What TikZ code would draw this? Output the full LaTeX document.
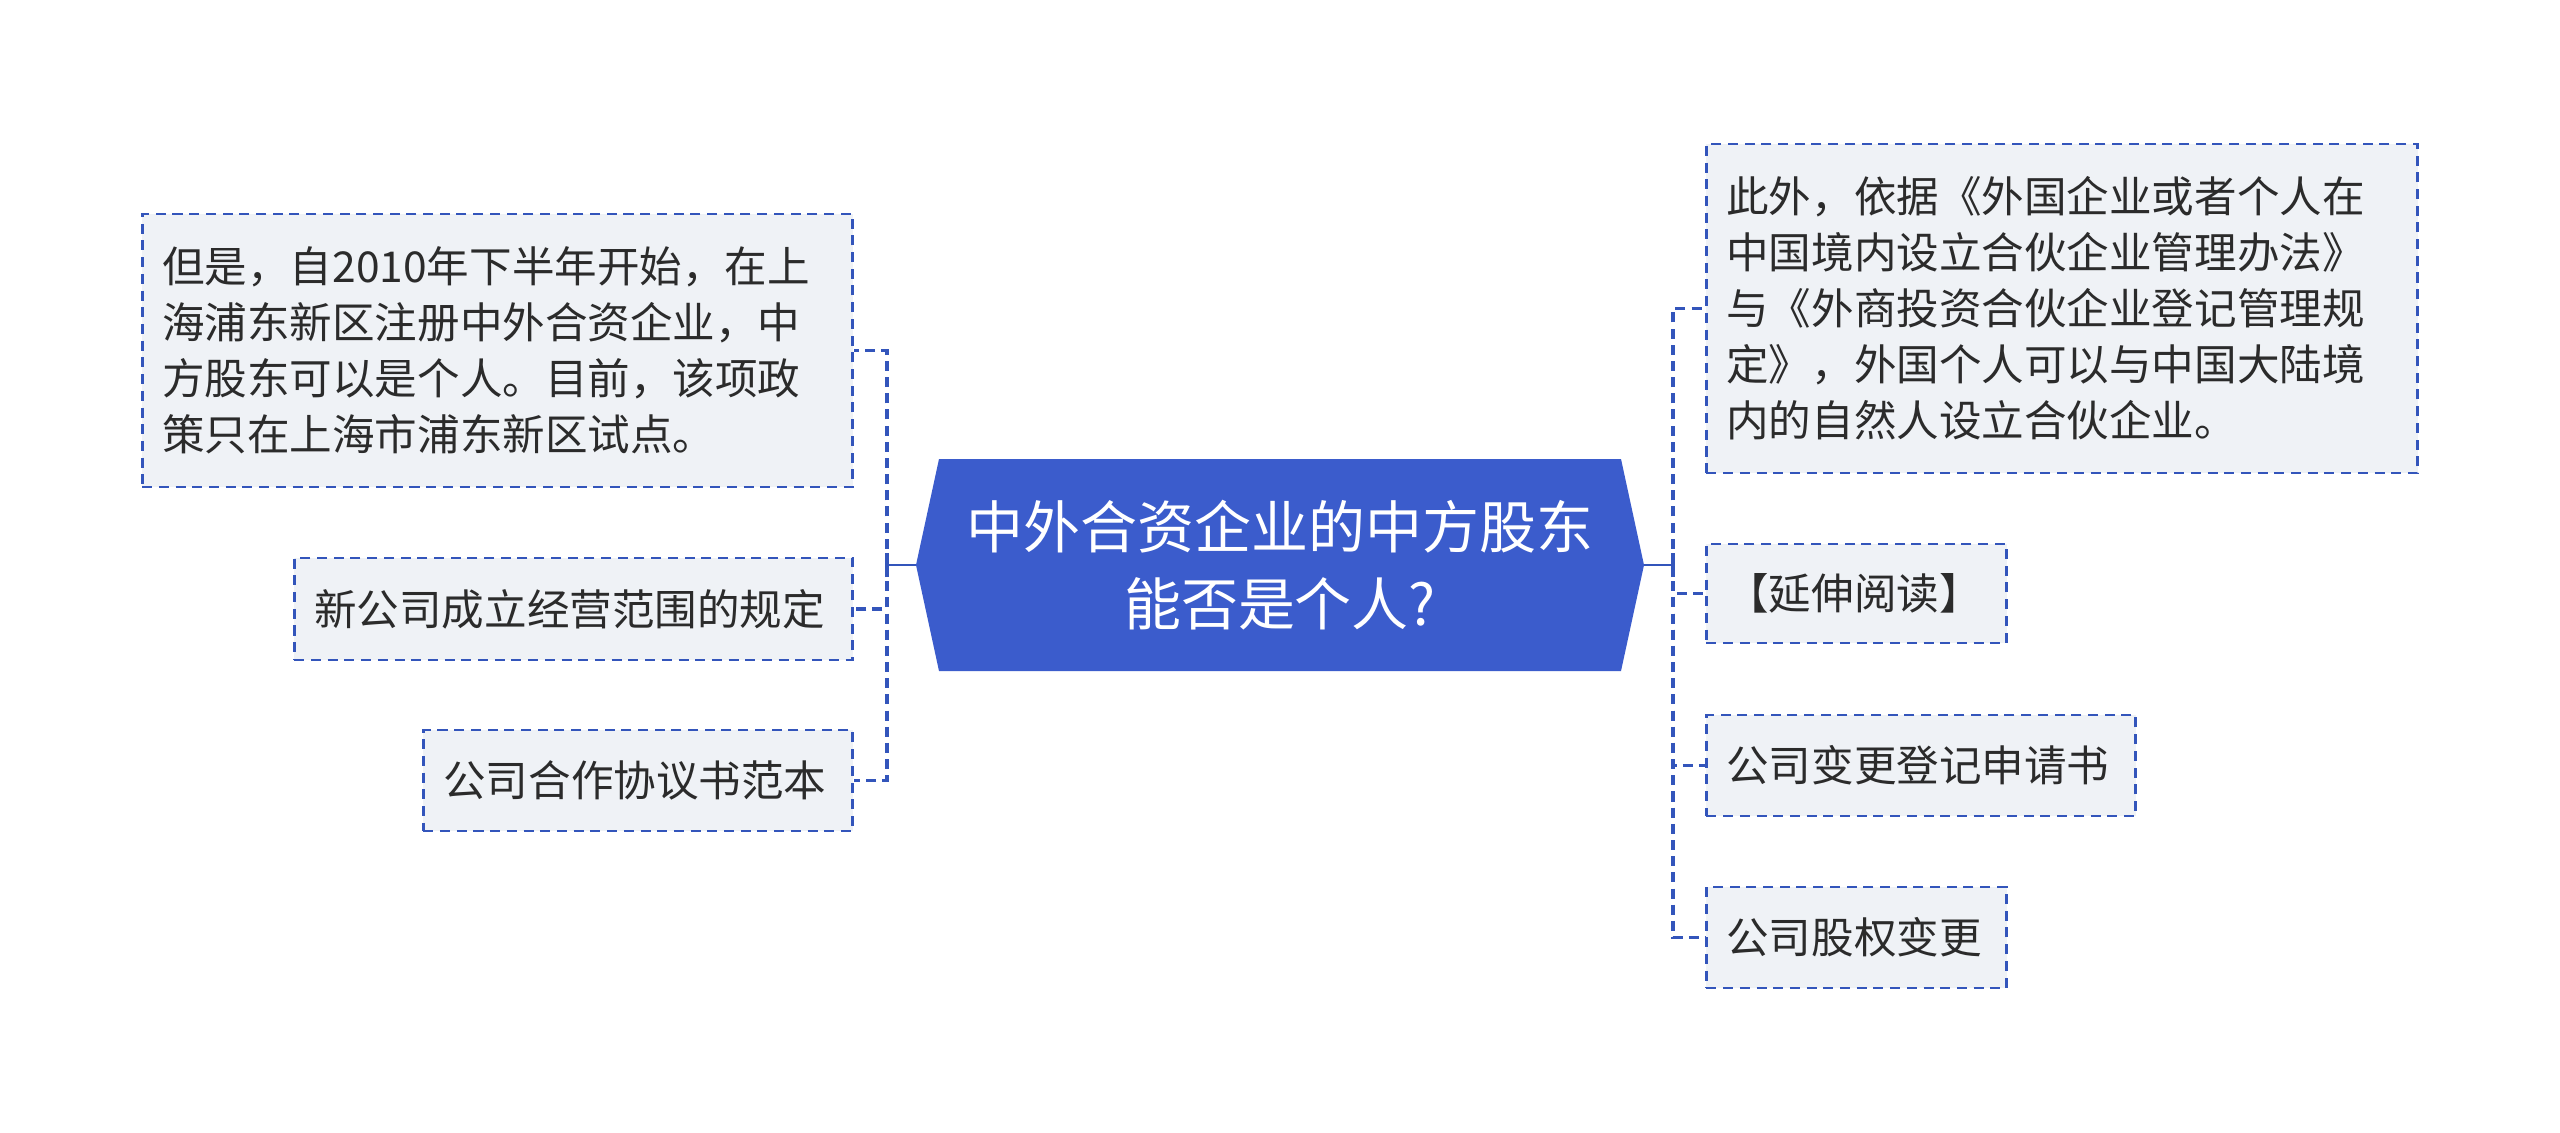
\documentclass[tikz,border=0pt]{standalone}
\usepackage{fontspec}
\setmainfont{Noto Sans CJK SC}
\definecolor{rootblue}{HTML}{3B5CCC}
\definecolor{linkblue}{HTML}{3355BB}
\definecolor{boxfill}{HTML}{EFF2F6}
\definecolor{txt}{HTML}{2B2B2B}
\begin{document}
\begin{tikzpicture}[x=0.01cm,y=-0.01cm,
  leaf/.style={draw=linkblue, line width=0.78pt, dash pattern=on 2.85pt off 1.9pt,
    fill=boxfill, text=txt, font=\fontsize{12.1}{15.9}\selectfont,
    align=left, inner xsep=0.2cm, inner ysep=0pt},
  conn/.style={draw=linkblue, line width=1.1pt, dash pattern=on 2.85pt off 1.75pt},
  trunk/.style={draw=linkblue, line width=0.6pt},
  tick/.style={draw=linkblue, line width=1.1pt},
  roottext/.style={text=white, font=\fontsize{16.2}{21.9}\selectfont, align=center}]
\useasboundingbox[fill=white] (0,0) rectangle (2560,1132);

% central topic
\fill[rootblue] (916,565) -- (939,459) -- (1621,459) -- (1644,565) -- (1621,671) -- (939,671) -- cycle;
\node[roottext] (root) at (1280,565) {中外合资企业的中方股东\\能否是个人?};
\coordinate (rl) at (916,565);
\coordinate (rr) at (1644,565);
\coordinate (jl) at (887,565);
\coordinate (jr) at (1673,565);

% left leaves
\node[leaf, anchor=east, text width=6.70cm, minimum height=2.73cm] (L1) at (854,350.5)
  {但是，自2010年下半年开始，在上\\海浦东新区注册中外合资企业，中\\方股东可以是个人。目前，该项政\\策只在上海市浦东新区试点。};
\node[leaf, anchor=east, text width=5.18cm, minimum height=1.02cm] (L2) at (854,609)
  {新公司成立经营范围的规定};
\node[leaf, anchor=east, text width=3.89cm, minimum height=1.01cm] (L3) at (854,780.5)
  {公司合作协议书范本};

% right leaves
\node[leaf, anchor=west, text width=6.71cm, minimum height=3.29cm] (R1) at (1705,308.5)
  {此外，依据《外国企业或者个人在\\中国境内设立合伙企业管理办法》\\与《外商投资合伙企业登记管理规\\定》，外国个人可以与中国大陆境\\内的自然人设立合伙企业。};
\node[leaf, anchor=west, text width=2.60cm, minimum height=0.99cm] (R2) at (1705,593.5)
  {【延伸阅读】};
\node[leaf, anchor=west, text width=3.89cm, minimum height=1.01cm] (R3) at (1705,765.5)
  {公司变更登记申请书};
\node[leaf, anchor=west, text width=2.60cm, minimum height=1.01cm] (R4) at (1705,937.5)
  {公司股权变更};

% connectors
\draw[trunk] (rl) -- (jl);
\draw[tick] ([yshift=-0.12cm]jl) -- ([yshift=0.12cm]jl);
\draw[conn] (jl) |- (L1.east);
\draw[conn] (jl) |- (L2.east);
\draw[conn] (jl) |- (L3.east);

\draw[trunk] (rr) -- (jr);
\draw[tick] ([yshift=-0.12cm]jr) -- ([yshift=0.12cm]jr);
\draw[conn] (jr) |- (R1.west);
\draw[conn] (jr) |- (R2.west);
\draw[conn] (jr) |- (R3.west);
\draw[conn] (jr) |- (R4.west);
\end{tikzpicture}
\end{document}
